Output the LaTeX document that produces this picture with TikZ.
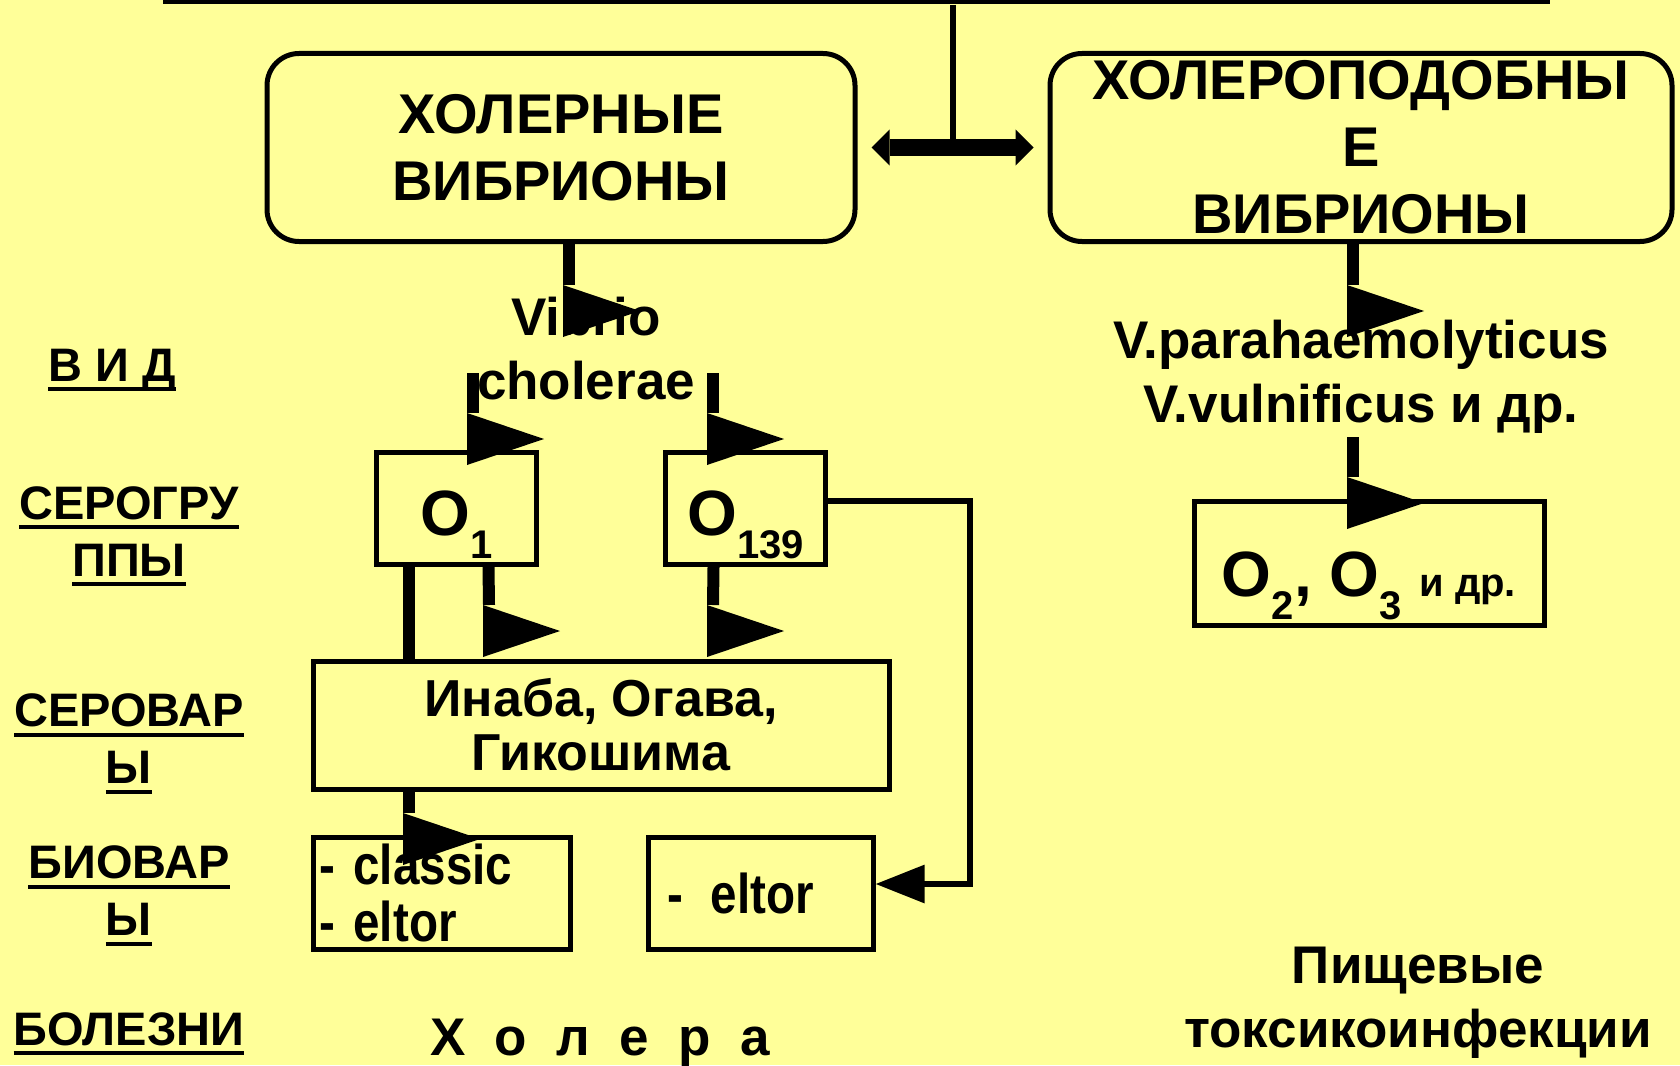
\documentclass[tikz,border=0pt]{standalone}
\usepackage{fontspec}
\setmainfont{Liberation Sans}
\newfontfamily\narrowfont{Liberation Sans}[FakeStretch=0.85]
\usetikzlibrary{arrows.meta}
\definecolor{slide}{RGB}{255,255,153}

\newcommand\sub[1]{\raisebox{-11.5pt}{\fontsize{20}{20}\selectfont #1}}
\newcommand\ulbox[1]{\setbox0\hbox{#1}\rlap{\rule[-0.213em]{\wd0}{0.085em}}\box0}
\newcommand\flag[2]{%
  \draw[stalk] (#1) -- (#2);
  \fill ([xshift=-3pt]#2) -- ++(0,52) -- ++(77,-26) -- cycle;}

\begin{document}
\begin{tikzpicture}[x=0.5pt,y=-0.5pt,
    hdr/.style={draw,line width=2.5pt,rounded corners=16pt,inner sep=0pt,align=center,
      font=\fontsize{28}{33.5}\selectfont\bfseries},
    grp/.style={draw,line width=2.5pt,inner sep=0pt,align=center},
    row/.style={align=center,font=\fontsize{23.5}{28.5}\selectfont\bfseries},
    txt/.style={align=center,font=\fontsize{26.5}{32}\selectfont\bfseries},
    big/.style={font=\fontsize{32}{32}\selectfont\bfseries,text height=26.5pt,text depth=0pt},
    thin/.style={font=\narrowfont\fontsize{28}{28.5}\selectfont\bfseries,align=left},
    stalk/.style={line width=6pt},
    link/.style={line width=3pt,-{Triangle[length=24.5pt,width=18.5pt]}}]
  \useasboundingbox (0,0) rectangle (1680,1065);
  \fill[slide] (0,0) rectangle (1680,1065);

  \draw[line width=2.5pt] (163,2) -- (1550,2);
  \draw[line width=3pt] (953,5) -- (953,149);

  \node[hdr,minimum width=294pt,minimum height=94pt] (cholera) at (561,147.5) {ХОЛЕРНЫЕ\\ВИБРИОНЫ};
  \node[hdr,minimum width=311pt,minimum height=94pt] (like) at (1361,147.5) {ХОЛЕРОПОДОБНЫ\\Е\\ВИБРИОНЫ};
  \draw[line width=8.5pt,{Triangle[length=9pt,width=18pt,line width=0pt]}-{Triangle[length=9pt,width=18pt,line width=0pt]}]
    ([xshift=7pt]cholera.east) -- ([xshift=-7pt]like.west);

  % row captions
  \node[row,anchor=base] (vid) at (112,381) {\ulbox{В И Д}};
  \node[row] (grlbl) at (129,536.5) {\ulbox{СЕРОГРУ}\\\ulbox{ППЫ}};
  \node[row] (serlbl) at (129,744) {\ulbox{СЕРОВАР}\\\ulbox{Ы}};
  \node[row] (biolbl) at (129,896) {\ulbox{БИОВАР}\\\ulbox{Ы}};
  \node[row,anchor=base] (illlbl) at (129,1045) {\ulbox{БОЛЕЗНИ}};

  % cholera branch
  \node[txt] (vc) at (586,348.5) {Vibrio\\cholerae};
  \node[grp,big,minimum width=80pt,minimum height=56pt] (o1) at (456.5,508.5) {O\sub{1}};
  \node[grp,big,minimum width=80pt,minimum height=56pt] (o139) at (745.5,508.5) {O\sub{139}};
  \node[grp,minimum width=288pt,minimum height=64pt,font=\fontsize{26}{27}\selectfont\bfseries]
    (serovar) at (601,725) {Инаба, Огава,\\Гикошима};
  \node[grp,thin,minimum width=128.5pt,minimum height=56pt,text width=122.5pt,inner xsep=3pt]
    (classic) at (441.5,893) {- classic\\- eltor};
  \node[grp,thin,minimum width=112.5pt,minimum height=56pt,text width=93.5pt,inner xsep=9.5pt]
    (eltor) at (760.5,893) {-\hspace{0.5em}eltor};
  \node[txt,anchor=base] (illness) at (600,1055) {Х\ \ о\ \ л\ \ е\ \ р\ \ а};

  % cholera-like branch
  \node[txt] (species) at (1361,377) {V.parahaemolyticus\\V.vulnificus и др.};
  \node[grp,big,text height=33pt,minimum width=175pt,minimum height=62pt] (o2) at (1369,563)
    {O\sub{2}, O\sub{3} {\fontsize{20}{20}\selectfont и др.}};
  \node[txt] (food) at (1418,1002.5) {Пищевые\\токсикоинфекции};

  \coordinate (vcin) at (569,285);
  \coordinate (vcl) at (473,373);
  \coordinate (vcr) at (713,373);
  \coordinate (o1in) at (473,413);
  \coordinate (o139in) at (713,413);
  \coordinate (serin1) at (489,605);
  \coordinate (serin2) at (713,605);
  \coordinate (bioin) at (409,813);
  \coordinate (spin) at (1353,285);
  \coordinate (sptail) at (1353,437);
  \coordinate (o2in) at (1353,477);

  \flag{[xshift=4pt]cholera.south}{vcin}
  \flag{vcl}{o1in}
  \flag{vcr}{o139in}
  \flag{[xshift=16pt]o1.south}{serin1}
  \flag{[xshift=-16pt]o139.south}{serin2}
  \draw[stalk] ([xshift=-24pt]o1.south) -- ([xshift=-24pt]o1.south |- serovar.north);
  \flag{[xshift=-96pt]serovar.south}{bioin}
  \draw[link] ([yshift=4pt]o139.east) -- ++(142,0) |- ([yshift=4.5pt]eltor.east);
  \flag{[xshift=-4pt]like.south}{spin}
  \flag{sptail}{o2in}
\end{tikzpicture}
\end{document}
